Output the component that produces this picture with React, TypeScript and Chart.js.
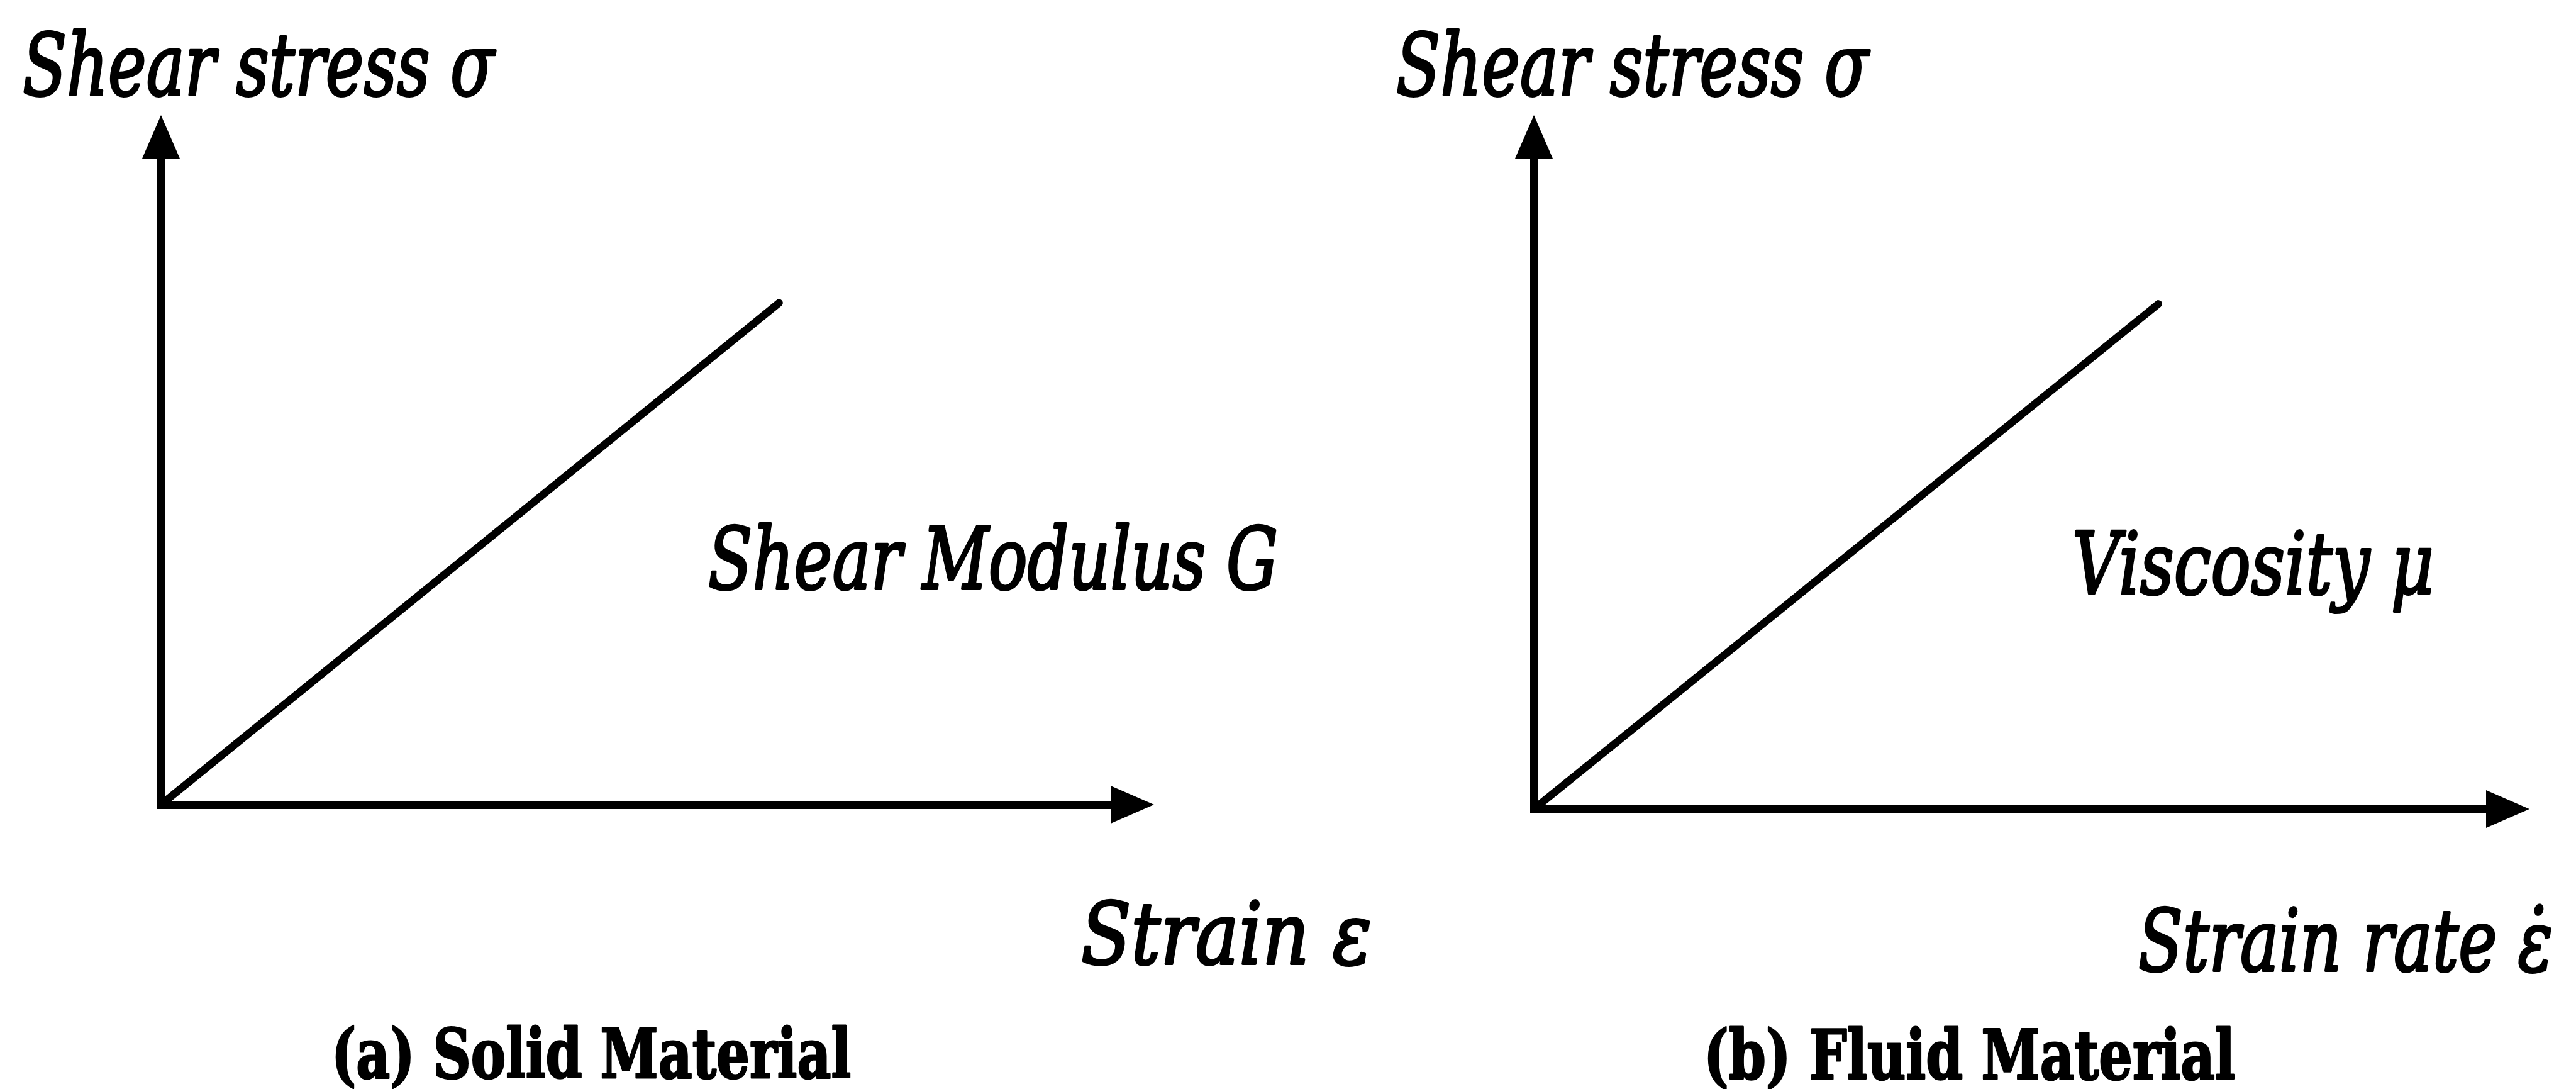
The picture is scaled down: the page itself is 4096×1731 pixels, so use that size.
import React, { useEffect, useRef } from "react";
import { Chart, registerables } from "chart.js";

Chart.register(...registerables);

// ---- data (axis units 0..10, axis end = arrow base) ----
const solidStrain = [0, 6.5];
const solidStress = [0, 7.75];
const fluidStrainRate = [0, 6.55];
const fluidStress = [0, 7.75];
const axisMax = 10;

// ---- text ----
const stressLabel = "Shear stress σ";
const solidXLabel = "Strain ε";
const fluidXLabel = "Strain rate ε\u0307";
const solidSlopeLabel = "Shear Modulus G";
const fluidSlopeLabel = "Viscosity μ";
const solidCaption = "(a) Solid Material";
const fluidCaption = "(b) Fluid Material";

// ---- layout (output pixels) ----
const W = 4096;
const H = 1731;
const ITALIC = "italic 400 136px 'DejaVu Serif'";
const BOLD = "normal 700 108px 'DejaVu Serif'";

type Label = { text: string; font: string; x: number; y: number; w: number; stroke: number };

type PanelSpec = {
  xs: number[];
  ys: number[];
  area: { left: number; right: number; top: number; bottom: number };
  labels: Label[];
};

const panels: PanelSpec[] = [
  {
    xs: solidStrain,
    ys: solidStress,
    area: { left: 256, right: 1768, top: 250, bottom: 1279 },
    labels: [
      { text: stressLabel, font: ITALIC, x: 36, y: 151, w: 750, stroke: 4 },
      { text: solidSlopeLabel, font: ITALIC, x: 1126, y: 936, w: 906, stroke: 4 },
      { text: solidXLabel, font: ITALIC, x: 1719, y: 1532, w: 462, stroke: 4 },
      { text: solidCaption, font: BOLD, x: 527, y: 1713, w: 826, stroke: 3 },
    ],
  },
  {
    xs: fluidStrainRate,
    ys: fluidStress,
    area: { left: 2439, right: 3955, top: 250, bottom: 1286 },
    labels: [
      { text: stressLabel, font: ITALIC, x: 2220, y: 151, w: 751, stroke: 4 },
      { text: fluidSlopeLabel, font: ITALIC, x: 3295, y: 944, w: 575, stroke: 4 },
      { text: fluidXLabel, font: ITALIC, x: 3400, y: 1543, w: 659, stroke: 4 },
      { text: fluidCaption, font: BOLD, x: 2709, y: 1715, w: 845, stroke: 3 },
    ],
  },
];

const ARROW_LEN = 67;
const ARROW_HALF = 30;

const decorPlugin = {
  id: "decor",
  afterDraw(chart: any) {
    const spec: PanelSpec = chart.options.plugins.decor.spec;
    const ctx = chart.ctx;
    const { left, right, top, bottom } = chart.chartArea;
    ctx.save();
    ctx.fillStyle = "#000";
    ctx.strokeStyle = "#000";
    // corner fill
    ctx.fillRect(left - 6, bottom - 6, 12, 13);
    // x arrowhead
    ctx.beginPath();
    ctx.moveTo(right - 2, bottom - ARROW_HALF);
    ctx.lineTo(right + ARROW_LEN, bottom);
    ctx.lineTo(right - 2, bottom + ARROW_HALF);
    ctx.closePath();
    ctx.fill();
    // y arrowhead
    ctx.beginPath();
    ctx.moveTo(left - ARROW_HALF, top + 2);
    ctx.lineTo(left, top - ARROW_LEN);
    ctx.lineTo(left + ARROW_HALF, top + 2);
    ctx.closePath();
    ctx.fill();
    // labels
    ctx.textBaseline = "alphabetic";
    ctx.textAlign = "left";
    ctx.lineJoin = "round";
    for (const l of spec.labels) {
      ctx.save();
      ctx.font = l.font;
      const m = ctx.measureText(l.text).width;
      ctx.translate(l.x, l.y);
      ctx.scale(l.w / m, 1);
      ctx.lineWidth = l.stroke;
      ctx.strokeText(l.text, 0, 0);
      ctx.fillText(l.text, 0, 0);
      ctx.restore();
    }
    ctx.restore();
  },
};

function Panel({ spec }: { spec: PanelSpec }) {
  const ref = useRef<HTMLCanvasElement | null>(null);
  useEffect(() => {
    const canvas = ref.current!;
    const a = spec.area;
    const chart = new Chart(canvas, {
      type: "scatter",
      data: {
        datasets: [
          {
            data: spec.xs.map((x, i) => ({ x, y: spec.ys[i] })),
            showLine: true,
            borderColor: "#000",
            backgroundColor: "#000",
            borderWidth: 12,
            borderCapStyle: "round",
            pointRadius: 0,
            fill: false,
            clip: false as any,
          } as any,
        ],
      },
      options: {
        responsive: false,
        animation: false,
        events: [],
        layout: {
          padding: { left: a.left, right: W - a.right, top: a.top, bottom: H - a.bottom },
        },
        plugins: {
          legend: { display: false },
          tooltip: { enabled: false },
          title: { display: false },
          decor: { spec },
        } as any,
        scales: {
          x: {
            type: "linear",
            min: 0,
            max: axisMax,
            grid: { display: false, drawTicks: false },
            ticks: { display: false },
            border: { display: true, color: "#000", width: 13 },
            afterFit: (s: any) => {
              s.height = 0;
            },
          },
          y: {
            type: "linear",
            min: 0,
            max: axisMax,
            grid: { display: false, drawTicks: false },
            ticks: { display: false },
            border: { display: true, color: "#000", width: 12 },
            afterFit: (s: any) => {
              s.width = 0;
            },
          },
        },
      },
      plugins: [decorPlugin],
    });
    return () => chart.destroy();
  }, [spec]);
  return (
    <canvas
      ref={ref}
      width={W}
      height={H}
      style={{ position: "absolute", left: 0, top: 0, width: W, height: H }}
    />
  );
}

export default function App() {
  return (
    <div style={{ position: "absolute", left: 0, top: 0, width: W, height: H, background: "#fff" }}>
      {panels.map((p, i) => (
        <Panel key={i} spec={p} />
      ))}
    </div>
  );
}
